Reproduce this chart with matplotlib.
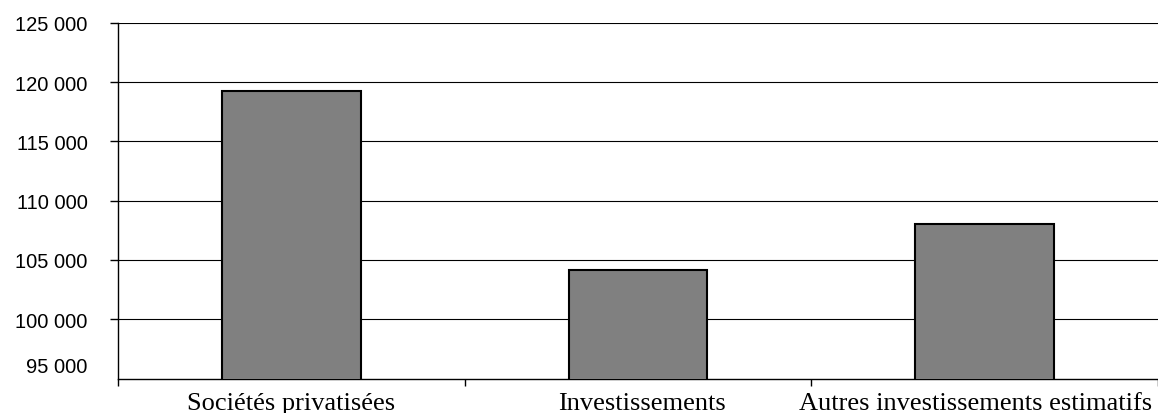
import matplotlib.pyplot as plt
from matplotlib.ticker import FuncFormatter
from matplotlib.transforms import offset_copy, blended_transform_factory

categories = ['Sociétés privatisées', 'Investissements', 'Autres investissements estimatifs']
values = [119250, 104150, 108050]
yticks = [95000, 100000, 105000, 110000, 115000, 120000, 125000]

fig = plt.figure(figsize=(11.58, 4.14), dpi=100)
ax = fig.add_axes([118/1158, 1 - 379.5/414, 1 - 118/1158, (379.5 - 24)/414])

x = list(range(len(categories)))
ax.bar(x, values, width=0.4, bottom=0, color='#808080', edgecolor='black', linewidth=1.5, zorder=3)

ax.set_xlim(-0.5, len(categories) - 0.5)
ax.set_ylim(yticks[0], yticks[-1])

# thousands with a space, as in the french layout
fmt = FuncFormatter(lambda v, pos: f'{int(v):,}'.replace(',', ' '))
ax.set_yticks(yticks[1:])
ax.yaxis.set_major_formatter(fmt)
ax.tick_params(axis='y', direction='out', length=6, width=1, pad=16, labelsize=14.5)
for lab in ax.get_yticklabels():
    lab.set_fontfamily('Liberation Sans')
ax.yaxis.grid(True, color='black', linewidth=0.8, zorder=0)

# bottom value label sits a little above the axis line
ax.text(0, yticks[0], fmt(yticks[0], 0), ha='right', va='center', fontsize=14.5,
        family='Liberation Sans',
        transform=offset_copy(blended_transform_factory(ax.transAxes, ax.transData),
                              fig=fig, x=-31, y=12, units='dots'))

# ticks between the categories, labels under their centres
ax.set_xticks([i - 0.5 for i in range(len(categories) + 1)])
ax.set_xticklabels([])
ax.tick_params(axis='x', direction='out', length=5, width=1)
trans = blended_transform_factory(ax.transData, ax.transAxes)
shifts = [0, 4, -9]
for i, name in enumerate(categories):
    ax.text(i, 0, name, ha='center', va='top', fontsize=19, family='Liberation Serif',
            transform=offset_copy(trans, fig=fig, x=shifts[i], y=-14, units='dots'))

for side in ['top', 'right']:
    ax.spines[side].set_visible(False)
ax.spines['left'].set_linewidth(1)
ax.spines['bottom'].set_linewidth(1)

fig.savefig('out.png', dpi=100)
